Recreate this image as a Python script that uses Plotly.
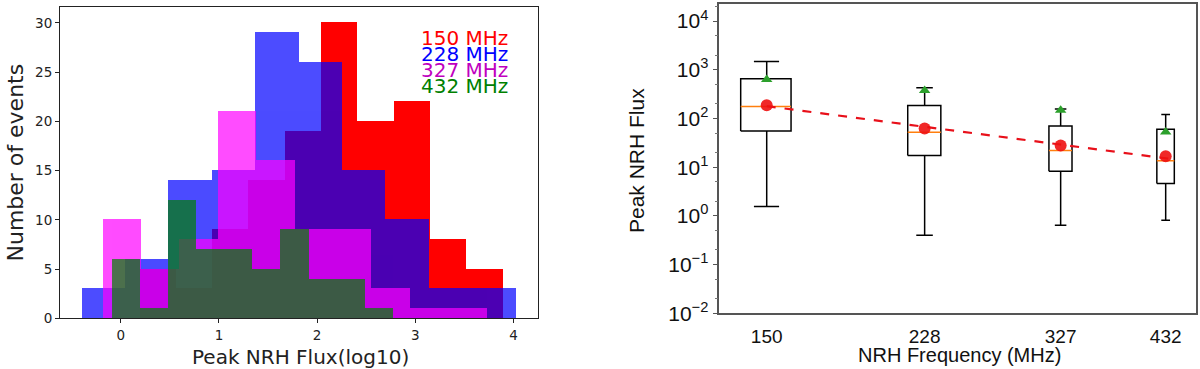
import numpy as np
import plotly.graph_objects as go
from plotly.subplots import make_subplots

# ---- left panel: histograms of log10 peak flux (10 bins each) ----
hist_labels = ["150 MHz", "228 MHz", "327 MHz", "432 MHz"]
counts_150 = [5, 3, 9, 14, 19, 30, 20, 22, 8, 5]
counts_228 = [3, 6, 14, 15, 29, 26, 15, 10, 3, 3]
counts_327 = [10, 5, 8, 21, 16, 9, 9, 3, 1, 1]
counts_432 = [6, 1, 12, 7, 7, 5, 9, 4, 4, 1]
range_150 = (0.192, 3.888)
range_228 = (-0.397, 4.020)
range_327 = (-0.185, 3.725)
range_432 = (-0.092, 2.771)

# ---- right panel: box statistics per frequency ----
freqs = [150, 228, 327, 432]
whisk_lo = [1.56, 0.40, 0.64, 0.81]
q1 = [55, 17.3, 8.2, 4.6]
median = [177, 52, 22, 13.6]
q3 = [653, 185, 70, 60]
whisk_hi = [1480, 428, 156, 121]
mean_vals = [630, 377, 147, 52.6]
dot_vals = [186, 62, 28, 16.8]
fit_freq = [150, 445]
fit_flux = [179, 14.2]

fig = make_subplots(rows=1, cols=2)

hists = [
    (counts_150, range_150, "#ff0000", 1.0),
    (counts_228, range_228, "#0000ff", 0.7),
    (counts_327, range_327, "#ff00ff", 0.7),
    (counts_432, range_432, "#008000", 0.7),
]
for (cnt, rng, col, op), name in zip(hists, hist_labels):
    edges = np.linspace(rng[0], rng[1], len(cnt) + 1)
    fig.add_trace(go.Bar(x=(edges[:-1] + edges[1:]) / 2, y=cnt, width=np.diff(edges),
                         marker=dict(color=col, line=dict(width=0)), opacity=op,
                         name=name, showlegend=False), row=1, col=1)

# boxes drawn by hand so the width is constant in MHz on the log axis
half_w, cap_w = 10, 5
bx, by, wx, wy, mx, my = [], [], [], [], [], []
for f, a, b, c, d, e in zip(freqs, whisk_lo, q1, median, q3, whisk_hi):
    bx += [f - half_w, f + half_w, f + half_w, f - half_w, f - half_w, None]
    by += [b, b, d, d, b, None]
    wx += [f, f, None, f, f, None, f - cap_w, f + cap_w, None, f - cap_w, f + cap_w, None]
    wy += [d, e, None, b, a, None, e, e, None, a, a, None]
    mx += [f - half_w, f + half_w, None]
    my += [c, c, None]

line_kw = dict(color="black", width=1.5)
fig.add_trace(go.Scatter(x=wx, y=wy, mode="lines", line=line_kw, showlegend=False), row=1, col=2)
fig.add_trace(go.Scatter(x=bx, y=by, mode="lines", line=line_kw, showlegend=False), row=1, col=2)
fig.add_trace(go.Scatter(x=mx, y=my, mode="lines", line=dict(color="#ff7f0e", width=1.5),
                         showlegend=False), row=1, col=2)
fig.add_trace(go.Scatter(x=freqs, y=mean_vals, mode="markers",
                         marker=dict(symbol="triangle-up", color="#2ca02c", size=10),
                         showlegend=False), row=1, col=2)
fig.add_trace(go.Scatter(x=fit_freq, y=fit_flux, mode="lines",
                         line=dict(color="#e8101a", width=2.2, dash="dash"), showlegend=False),
              row=1, col=2)
fig.add_trace(go.Scatter(x=freqs, y=dot_vals, mode="markers",
                         marker=dict(color="#ee1111", size=12, opacity=0.9),
                         showlegend=False), row=1, col=2)

W, H = 1200, 369
dv = "DejaVu Sans"
ls = "Liberation Sans"

fig.update_layout(
    template="none",
    width=W, height=H, barmode="overlay", bargap=0,
    paper_bgcolor="white", plot_bgcolor="white",
    margin=dict(l=0, r=0, t=0, b=0, autoexpand=False),
    showlegend=False,
)
fig.update_xaxes(automargin=False)
fig.update_yaxes(automargin=False)
fig.update_xaxes(domain=[60 / W, 537.7 / W], range=[-0.618, 4.245], tickvals=[0, 1, 2, 3, 4],
                 ticks="outside", ticklen=4, tickcolor="#222", showline=True, mirror=True,
                 linecolor="#222", linewidth=1, showgrid=False, zeroline=False,
                 tickfont=dict(family=dv, size=13.5, color="#222"), row=1, col=1)
fig.update_yaxes(domain=[1 - 318.3 / H, 1 - 7.3 / H], range=[0, 31.57],
                 tickvals=[0, 5, 10, 15, 20, 25, 30],
                 ticks="outside", ticklen=4, tickcolor="#222", showline=True, mirror=True,
                 linecolor="#222", linewidth=1, showgrid=False, zeroline=False,
                 tickfont=dict(family=dv, size=13.5, color="#222"), row=1, col=1)

fig.update_xaxes(type="log", domain=[719.3 / W, 1196 / W], range=[2.1215, 2.6704],
                 tickvals=freqs, ticktext=[str(f) for f in freqs],
                 ticks="outside", ticklen=5, tickcolor="rgba(0,0,0,0)",
                 showline=True, mirror=True, linecolor="#555", linewidth=1.5,
                 showgrid=False, zeroline=False,
                 tickfont=dict(family=ls, size=19, color="#111"), row=1, col=2)
ydec = [-2, -1, 0, 1, 2, 3, 4]
fig.update_yaxes(type="log", domain=[1 - 313.3 / H, 1 - 4 / H], range=[-2, 4.35],
                 tickvals=[10.0 ** k for k in ydec],
                 ticktext=["10<sup>%s</sup>" % str(k).replace("-", "\u2212") for k in ydec],
                 ticks="outside", ticklen=5, tickcolor="#555",
                 minor=dict(ticks="outside", ticklen=2.5, tickcolor="#777", showgrid=False),
                 showline=True, mirror=True, linecolor="#555", linewidth=1.5,
                 showgrid=False, zeroline=False,
                 tickfont=dict(family=ls, size=21, color="#111"), row=1, col=2)

# axis titles
def title(text, px, py, fam, size, col, angle=0):
    fig.add_annotation(text=text, x=px / W, y=1 - py / H, xref="paper", yref="paper",
                       xanchor="center", yanchor="middle", textangle=angle, showarrow=False,
                       font=dict(family=fam, size=size, color=col))

title("Number of events", 14.5, 163, dv, 22, "#222", -90)
title("Peak NRH Flux(log10)", 300, 357, dv, 20, "#222")
title("Peak NRH Flux", 636, 161, ls, 21, "#111", -90)
title("NRH Frequency (MHz)", 959, 355, ls, 20, "#111")

# coloured labels standing in for a legend
label_colors = ["#ff0000", "#0000ff", "#bf00bf", "#008000"]
label_y = [38, 54, 70, 85.5]
for lab, col, yy in zip(hist_labels, label_colors, label_y):
    fig.add_annotation(text=lab, x=509.5 / W, y=1 - yy / H, xref="paper", yref="paper",
                       xanchor="right", yanchor="middle", showarrow=False,
                       font=dict(family=dv, size=20, color=col))

fig.write_html("out.html", config={"displayModeBar": False},
               post_script="document.body.style.margin='0';")
